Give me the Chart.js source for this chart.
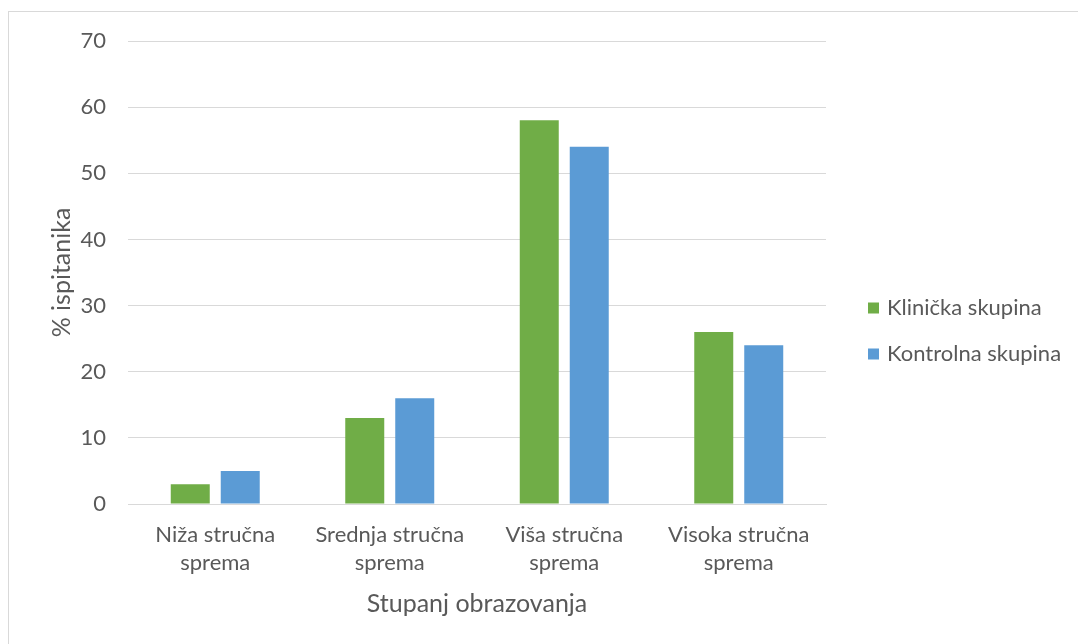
<!DOCTYPE html>
<html>
<head>
<meta charset="utf-8">
<script src="https://cdn.jsdelivr.net/npm/chart.js@4"></script>
<style>
  html, body { margin: 0; padding: 0; background: #fff; }
  #wrap { position: relative; width: 1078px; height: 644px; }
  canvas { display: block; }
</style>
</head>
<body>
<div id="wrap"><canvas id="c" width="1078" height="644"></canvas></div>
<script>
const categories = [
  ["Niža stručna", "sprema"],
  ["Srednja stručna", "sprema"],
  ["Viša stručna", "sprema"],
  ["Visoka stručna", "sprema"]
];
const seriesNames = ["Klinička skupina", "Kontrolna skupina"];
const klinicka = [3, 13, 58, 26];
const kontrolna = [5, 16, 54, 24];
const yTitle = "% ispitanika";
const xTitle = "Stupanj obrazovanja";

const FONT = "Lato, 'Open Sans', sans-serif";
const TXT = "#595959";
const colors = ["#70AD47", "#5B9BD5"];

const frameAndLegend = {
  id: 'frameAndLegend',
  beforeDraw(chart) {
    const ctx = chart.ctx;
    ctx.save();
    ctx.fillStyle = '#ffffff';
    ctx.fillRect(0, 0, chart.width, chart.height);
    ctx.strokeStyle = '#d9d9d9';
    ctx.lineWidth = 1;
    ctx.strokeRect(8.5, 11.5, 1200, 1200);
    ctx.restore();
  },
  afterDraw(chart) {
    const ctx = chart.ctx;
    ctx.save();
    ctx.font = "22px " + FONT;
    ctx.textBaseline = 'middle';
    ctx.textAlign = 'left';
    chart.data.datasets.forEach((ds, i) => {
      const y = 308 + i * 46;
      ctx.fillStyle = ds.backgroundColor;
      ctx.fillRect(868, y - 5.5, 11, 11);
      ctx.fillStyle = TXT;
      ctx.fillText(ds.label, 887, y);
    });
    ctx.restore();
  }
};

new Chart(document.getElementById('c'), {
  type: 'bar',
  data: {
    labels: categories,
    datasets: [
      { label: seriesNames[0], data: klinicka, backgroundColor: colors[0] },
      { label: seriesNames[1], data: kontrolna, backgroundColor: colors[1] }
    ]
  },
  options: {
    responsive: false,
    animation: false,
    devicePixelRatio: 1,
    categoryPercentage: 0.573,
    barPercentage: 0.78,
    layout: { padding: { top: 41, right: 252, bottom: 0, left: 1 } },
    plugins: {
      legend: { display: false },
      tooltip: { enabled: false }
    },
    scales: {
      x: {
        grid: { display: false, drawTicks: false },
        border: { display: true, color: '#d9d9d9', width: 1 },
        ticks: {
          color: TXT,
          font: { family: FONT, size: 22, lineHeight: 1.27 },
          padding: 17,
          maxRotation: 0,
          autoSkip: false
        },
        title: {
          display: true,
          text: xTitle,
          color: TXT,
          font: { family: FONT, size: 25 },
          padding: { top: 0, bottom: 25 }
        },
        afterFit(scale) { scale.height = 140; }
      },
      y: {
        min: 0,
        max: 70,
        ticks: {
          stepSize: 10,
          color: TXT,
          font: { family: FONT, size: 22 },
          padding: 22
        },
        grid: { color: '#d9d9d9', drawTicks: false },
        border: { display: false },
        title: {
          display: true,
          text: yTitle,
          color: TXT,
          font: { family: FONT, size: 25 },
          padding: { top: 46, bottom: 0 }
        },
        afterFit(scale) { scale.width = 127; }
      }
    }
  },
  plugins: [frameAndLegend]
});
</script>
</body>
</html>
